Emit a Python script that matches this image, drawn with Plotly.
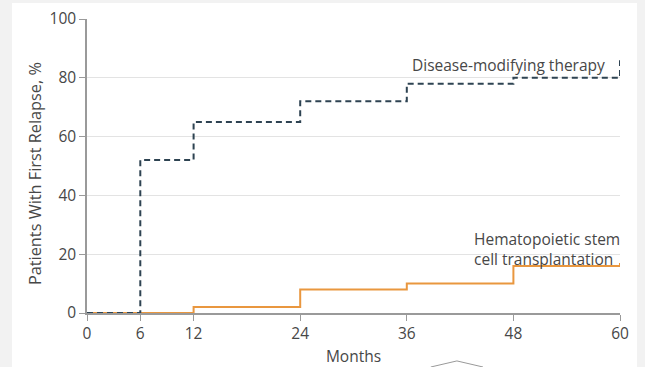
import plotly.graph_objects as go

# Kaplan-Meier style cumulative relapse
months_dmt = [0, 6, 12, 24, 36, 48, 60]
relapse_dmt = [0, 52, 65, 72, 78, 80, 86]

months_hsct = [0, 12, 24, 36, 48, 60]
relapse_hsct = [0, 2, 8, 10, 16, 17]

x_ticks = [0, 6, 12, 24, 36, 48, 60]
y_ticks = [0, 20, 40, 60, 80, 100]

FONT = "Open Sans"
TEXT = "#474747"

fig = go.Figure()

fig.add_trace(go.Scatter(
    x=months_hsct, y=relapse_hsct,
    mode="lines", line=dict(shape="hv", color="#e9973f", width=2),
    showlegend=False, hoverinfo="skip"
))
fig.add_trace(go.Scatter(
    x=months_dmt, y=relapse_dmt,
    mode="lines", line=dict(shape="hv", color="#2e4352", width=2, dash="6px,4px"),
    showlegend=False, hoverinfo="skip"
))

# series labels
fig.add_annotation(x=58.5, y=84.4, text="Disease-modifying therapy", showarrow=False,
                   xanchor="right", yanchor="middle",
                   font=dict(family=FONT, size=15.5, color=TEXT))
fig.add_annotation(x=43.3, y=21.9, text="Hematopoietic stem<br>cell transplantation",
                   showarrow=False, xanchor="left", yanchor="middle", align="left",
                   font=dict(family=FONT, size=15.5, color=TEXT))

# y-axis title (placed by hand, sits a little below the axis centre)
fig.add_annotation(xref="paper", yref="paper", x=-0.0976, y=0.476,
                   text="Patients With First Relapse, %", textangle=-90,
                   showarrow=False, xanchor="center", yanchor="middle",
                   font=dict(family=FONT, size=16.3, color=TEXT))

# white card on grey page
fig.add_shape(type="rect", xref="paper", yref="paper",
              x0=-0.1407, x1=1.0319, y0=-0.25, y1=1.0544,
              fillcolor="white", line=dict(width=0), layer="below")
# little chevron at the bottom edge
fig.add_shape(type="path", xref="paper", yref="paper",
              path="M 0.645,-0.1837 L 0.694,-0.163 L 0.743,-0.1837",
              line=dict(color="#999999", width=1))

fig.update_layout(
    width=645, height=367,
    margin=dict(l=87, r=25, t=19, b=54),
    paper_bgcolor="#f2f2f2",
    plot_bgcolor="white",
    font=dict(family=FONT, size=15.5, color=TEXT),
    xaxis=dict(
        range=[0, 60], tickvals=x_ticks, showgrid=False, zeroline=False,
        showline=True, linecolor="#9a9a9a", linewidth=1.5, automargin=False,
        ticks="outside", ticklen=6, tickcolor="#9a9a9a",
        title=dict(text="Months", font=dict(size=15.5, color=TEXT), standoff=10),
        tickfont=dict(size=15.5, color=TEXT),
    ),
    yaxis=dict(
        range=[0, 100], tickvals=y_ticks, showgrid=True, gridcolor="#e3e3e3",
        zeroline=False, showline=True, linecolor="#9a9a9a", linewidth=1.5, automargin=False,
        ticks="outside", ticklen=6, tickcolor="#9a9a9a",
        tickfont=dict(size=15.5, color=TEXT),
    ),
)

fig.write_html("out.html", config={"displayModeBar": False},
               post_script="document.body.style.margin='0';")
